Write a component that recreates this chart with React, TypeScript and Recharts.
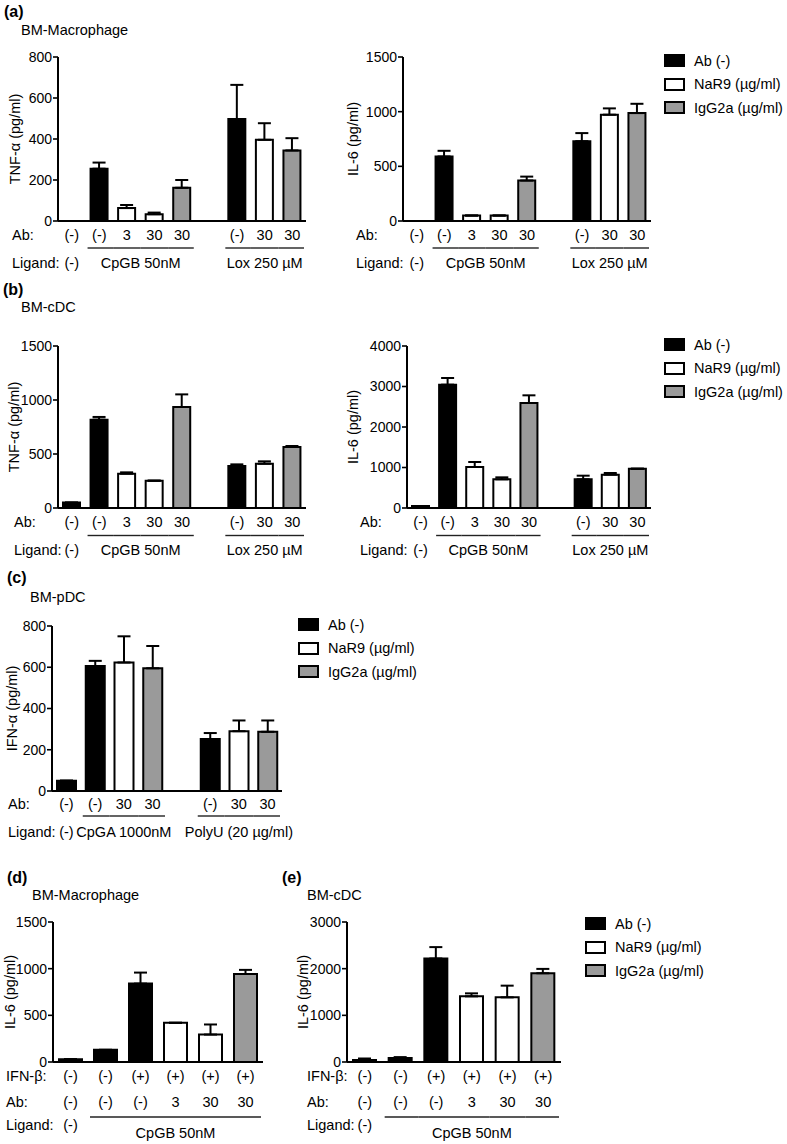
import React from 'react';
import { BarChart, Bar, XAxis, YAxis, Cell, ErrorBar, Legend, Customized } from 'recharts';

const FONT = 'Arial, "Liberation Sans", Helvetica, sans-serif';
const FILLS: Record<string, string> = { ab: '#000000', nar9: '#ffffff', igg: '#9a9a9a', '': '#ffffff' };

const legendLabels = ['Ab (-)', 'NaR9 (µg/ml)', 'IgG2a (µg/ml)'];
const legendKinds = ['ab', 'nar9', 'igg'];

// Panels a & b share the same layout of conditions
const abAbLabels = ['(-)', '(-)', '3', '30', '30', '', '(-)', '30', '30'];
const abKinds = ['ab', 'ab', 'nar9', 'nar9', 'igg', '', 'ab', 'nar9', 'igg'];

const aTnfValues = [0, 255, 63, 33, 162, null, 497, 396, 344];
const aTnfErrors = [0, 30, 15, 8, 38, 0, 167, 81, 60];
const aIl6Values = [0, 590, 50, 50, 370, null, 730, 972, 987];
const aIl6Errors = [0, 52, 0, 0, 36, 0, 74, 58, 85];

const bTnfValues = [50, 818, 318, 253, 935, null, 389, 410, 565];
const bTnfErrors = [0, 25, 12, 0, 117, 0, 15, 22, 9];
const bIl6Values = [50, 3045, 1012, 708, 2593, null, 708, 823, 970];
const bIl6Errors = [0, 165, 124, 49, 189, 0, 90, 41, 0];

// Panel c
const cAbLabels = ['(-)', '(-)', '30', '30', '', '(-)', '30', '30'];
const cKinds = ['ab', 'ab', 'nar9', 'igg', '', 'ab', 'nar9', 'igg'];
const cIfnValues = [50, 606, 623, 595, null, 252, 290, 287];
const cIfnErrors = [0, 25, 127, 108, 0, 29, 52, 55];

// Panels d & e
const deIfnbLabels = ['(-)', '(-)', '(+)', '(+)', '(+)', '(+)'];
const deAbLabels = ['(-)', '(-)', '(-)', '3', '30', '30'];
const deKinds = ['ab', 'ab', 'ab', 'nar9', 'nar9', 'igg'];
const dIl6Values = [30, 130, 840, 420, 294, 943];
const dIl6Errors = [0, 0, 118, 0, 108, 44];
const eIl6Values = [45, 85, 2218, 1407, 1385, 1902];
const eIl6Errors = [30, 20, 244, 64, 251, 93];

const ticks800 = [0, 200, 400, 600, 800];
const ticks1500 = [0, 500, 1000, 1500];
const ticks3000 = [0, 1000, 2000, 3000];
const ticks4000 = [0, 1000, 2000, 3000, 4000];

const TXT = 14.5;

type Row = { title: string; labels: string[]; dy: number };
type Group = { label: string; from: number; to: number; dy: number };
type Spec = {
  left: number; top: number; width: number; height: number;
  plotLeft: number; plotRight: number; plotTop: number; plotBottom: number;
  values: (number | null)[]; errors: number[]; kinds: string[];
  rows: Row[]; groups: Group[]; ligandDy: number; lineDy: number; rowTitleX: number;
  yTicks: number[]; yLabel: string; yLabelX: number; barSize: number;
  legend?: { x: number; y: number };
};

const LegendBox = () => (
  <div style={{ fontFamily: FONT, fontSize: TXT, color: '#000' }}>
    {legendLabels.map((l, i) => (
      <div key={l} style={{ display: 'flex', alignItems: 'center', height: 23.5 }}>
        <div style={{ width: 17, height: 9, border: '2px solid #000', background: FILLS[legendKinds[i]] }} />
        <span style={{ marginLeft: 9, whiteSpace: 'nowrap' }}>{l}</span>
      </div>
    ))}
  </div>
);

function Panel({ spec }: { spec: Spec }) {
  const n = spec.values.length;
  const data = spec.values.map((v, i) => ({
    slot: String(i),
    value: v,
    err: [0, spec.errors[i] ?? 0],
    kind: spec.kinds[i],
  }));
  const slotW = (spec.plotRight - spec.plotLeft) / n;
  const txt = { fontSize: TXT, fill: '#000', fontFamily: FONT, dominantBaseline: 'central' as const };

  const renderTick = (p: any) => {
    const i = Number(p.payload.value);
    const x = p.x;
    const y = p.y;
    const items: React.ReactNode[] = [];
    spec.rows.forEach((row, r) => {
      if (i === 0)
        items.push(
          <text key={'rt' + r} x={spec.rowTitleX - spec.left} y={y + row.dy} textAnchor="start" {...txt}>
            {row.title}
          </text>
        );
      items.push(
        <text key={'rl' + r} x={x} y={y + row.dy} textAnchor="middle" {...txt}>
          {row.labels[i]}
        </text>
      );
    });
    if (i === 0)
      items.push(
        <text key="lig" x={spec.rowTitleX - spec.left} y={y + spec.ligandDy} textAnchor="start" {...txt}>
          Ligand:
        </text>
      );
    spec.groups.forEach((g, k) => {
      if (i < g.from || i > g.to) return;
      if (g.to > g.from) {
        const inset = 2;
        const x1 = x - slotW / 2 + (i === g.from ? inset : 0);
        const x2 = x + slotW / 2 - (i === g.to ? inset : 0);
        items.push(
          <line key={'gl' + k} x1={x1} x2={x2} y1={y + spec.lineDy} y2={y + spec.lineDy} stroke="#222" strokeWidth={1.4} />
        );
      }
      if (i === g.from)
        items.push(
          <text key={'gt' + k} x={x + ((g.to - g.from) * slotW) / 2} y={y + g.dy} textAnchor="middle" {...txt}>
            {g.label}
          </text>
        );
    });
    return <g>{items}</g>;
  };

  const yMax = spec.yTicks[spec.yTicks.length - 1];
  const midY = (spec.plotTop + spec.plotBottom) / 2 - spec.top;
  const lx = spec.yLabelX - spec.left;

  return (
    <div style={{ position: 'absolute', left: spec.left, top: spec.top }}>
      <BarChart
        width={spec.width}
        height={spec.height}
        data={data}
        margin={{ top: spec.plotTop - spec.top, right: spec.left + spec.width - spec.plotRight, left: 0, bottom: 0 }}
      >
        <XAxis
          dataKey="slot"
          type="category"
          interval={0}
          height={spec.top + spec.height - spec.plotBottom}
          tickLine={false}
          tickSize={0}
          tickMargin={0}
          axisLine={{ stroke: '#000', strokeWidth: 2 }}
          tick={renderTick}
        />
        <YAxis
          type="number"
          width={spec.plotLeft - spec.left}
          domain={[0, yMax]}
          ticks={spec.yTicks}
          allowDataOverflow
          interval={0}
          tickSize={5}
          tickMargin={1}
          axisLine={{ stroke: '#000', strokeWidth: 2 }}
          tickLine={{ stroke: '#000', strokeWidth: 1.6 }}
          tick={{ fill: '#000', fontSize: 14, fontFamily: FONT }}
        />
        <Bar dataKey="value" barSize={spec.barSize} stroke="#000" strokeWidth={2} isAnimationActive={false}>
          {data.map((d, i) => (
            <Cell key={i} fill={FILLS[d.kind]} stroke="#000" strokeWidth={2} />
          ))}
          <ErrorBar dataKey="err" direction="y" width={6.5} stroke="#000" strokeWidth={2} />
        </Bar>
        <Customized
          component={
            <text
              transform={`translate(${lx},${midY}) rotate(-90)`}
              textAnchor="middle"
              dominantBaseline="central"
              fontSize={TXT}
              fontFamily={FONT}
              fill="#000"
            >
              {spec.yLabel}
            </text>
          }
        />
        {spec.legend && (
          <Legend
            layout="vertical"
            align="center"
            verticalAlign="middle"
            content={() => <LegendBox />}
            wrapperStyle={{ left: spec.legend.x - spec.left, top: spec.legend.y - spec.top, width: 150, height: 72 }}
          />
        )}
      </BarChart>
    </div>
  );
}

const abGroups: Group[] = [
  { label: '(-)', from: 0, to: 0, dy: 42 },
  { label: 'CpGB 50nM', from: 1, to: 4, dy: 42 },
  { label: 'Lox 250 µM', from: 6, to: 8, dy: 42 },
];
const bGroups: Group[] = abGroups.map((g) => ({ ...g, dy: 41.5 }));
const cGroups: Group[] = [
  { label: '(-)', from: 0, to: 0, dy: 41 },
  { label: 'CpGA 1000nM', from: 1, to: 3, dy: 41 },
  { label: 'PolyU (20 µg/ml)', from: 5, to: 7, dy: 41 },
];
const deGroups: Group[] = [
  { label: '(-)', from: 0, to: 0, dy: 63 },
  { label: 'CpGB 50nM', from: 1, to: 5, dy: 71 },
];

const specs: Spec[] = [
  {
    left: 0, top: 40, width: 320, height: 240, plotLeft: 58, plotRight: 306, plotTop: 57, plotBottom: 221,
    values: aTnfValues, errors: aTnfErrors, kinds: abKinds,
    rows: [{ title: 'Ab:', labels: abAbLabels, dy: 14 }], groups: abGroups, ligandDy: 42, lineDy: 27, rowTitleX: 12,
    yTicks: ticks800, yLabel: 'TNF-α (pg/ml)', yLabelX: 15, barSize: 17,
  },
  {
    left: 340, top: 40, width: 447, height: 240, plotLeft: 403, plotRight: 651, plotTop: 57, plotBottom: 221,
    values: aIl6Values, errors: aIl6Errors, kinds: abKinds,
    rows: [{ title: 'Ab:', labels: abAbLabels, dy: 14 }], groups: abGroups, ligandDy: 42, lineDy: 27, rowTitleX: 356,
    yTicks: ticks1500, yLabel: 'IL-6 (pg/ml)', yLabelX: 353, barSize: 17, legend: { x: 664, y: 49 },
  },
  {
    left: 0, top: 320, width: 320, height: 250, plotLeft: 58, plotRight: 306, plotTop: 346, plotBottom: 508,
    values: bTnfValues, errors: bTnfErrors, kinds: abKinds,
    rows: [{ title: 'Ab:', labels: abAbLabels, dy: 13.5 }], groups: bGroups, ligandDy: 41.5, lineDy: 27.5, rowTitleX: 14,
    yTicks: ticks1500, yLabel: 'TNF-α (pg/ml)', yLabelX: 14, barSize: 17,
  },
  {
    left: 340, top: 320, width: 447, height: 250, plotLeft: 407, plotRight: 651, plotTop: 346, plotBottom: 508,
    values: bIl6Values, errors: bIl6Errors, kinds: abKinds,
    rows: [{ title: 'Ab:', labels: abAbLabels, dy: 13.5 }], groups: bGroups, ligandDy: 41.5, lineDy: 27.5, rowTitleX: 360,
    yTicks: ticks4000, yLabel: 'IL-6 (pg/ml)', yLabelX: 353, barSize: 17, legend: { x: 664, y: 333 },
  },
  {
    left: 0, top: 610, width: 787, height: 240, plotLeft: 52, plotRight: 282, plotTop: 626, plotBottom: 791,
    values: cIfnValues, errors: cIfnErrors, kinds: cKinds,
    rows: [{ title: 'Ab:', labels: cAbLabels, dy: 13 }], groups: cGroups, ligandDy: 41, lineDy: 25, rowTitleX: 8,
    yTicks: ticks800, yLabel: 'IFN-α (pg/ml)', yLabelX: 12, barSize: 19, legend: { x: 298, y: 613 },
  },
  {
    left: 0, top: 905, width: 280, height: 239, plotLeft: 53, plotRight: 263, plotTop: 922, plotBottom: 1062,
    values: dIl6Values, errors: dIl6Errors, kinds: deKinds,
    rows: [
      { title: 'IFN-β:', labels: deIfnbLabels, dy: 14 },
      { title: 'Ab:', labels: deAbLabels, dy: 40 },
    ],
    groups: deGroups, ligandDy: 63, lineDy: 55, rowTitleX: 6,
    yTicks: ticks1500, yLabel: 'IL-6 (pg/ml)', yLabelX: 10, barSize: 23,
  },
  {
    left: 290, top: 905, width: 497, height: 239, plotLeft: 347, plotRight: 561, plotTop: 922, plotBottom: 1062,
    values: eIl6Values, errors: eIl6Errors, kinds: deKinds,
    rows: [
      { title: 'IFN-β:', labels: deIfnbLabels, dy: 14 },
      { title: 'Ab:', labels: deAbLabels, dy: 40 },
    ],
    groups: deGroups, ligandDy: 63, lineDy: 55, rowTitleX: 307,
    yTicks: ticks3000, yLabel: 'IL-6 (pg/ml)', yLabelX: 303, barSize: 23, legend: { x: 585, y: 912 },
  },
];

const titles = [
  { text: '(a)', x: 4, y: 12, bold: true },
  { text: 'BM-Macrophage', x: 21, y: 30 },
  { text: '(b)', x: 3, y: 290, bold: true },
  { text: 'BM-cDC', x: 21, y: 307 },
  { text: '(c)', x: 7, y: 578, bold: true },
  { text: 'BM-pDC', x: 30, y: 597 },
  { text: '(d)', x: 7, y: 878, bold: true },
  { text: 'BM-Macrophage', x: 32, y: 895 },
  { text: '(e)', x: 282, y: 878, bold: true },
  { text: 'BM-cDC', x: 307, y: 895 },
];

export default function App() {
  return (
    <div
      style={{
        position: 'absolute', left: 0, top: 0, width: 787, height: 1144,
        background: '#fff', fontFamily: FONT, color: '#000', overflow: 'hidden',
      }}
    >
      {titles.map((t, i) => (
        <div
          key={i}
          style={{
            position: 'absolute', left: t.x, top: t.y - 9, lineHeight: '18px',
            fontSize: t.bold ? 16 : 14.5, fontWeight: t.bold ? 700 : 400, whiteSpace: 'nowrap',
          }}
        >
          {t.text}
        </div>
      ))}
      {specs.map((s, i) => (
        <Panel key={i} spec={s} />
      ))}
    </div>
  );
}
